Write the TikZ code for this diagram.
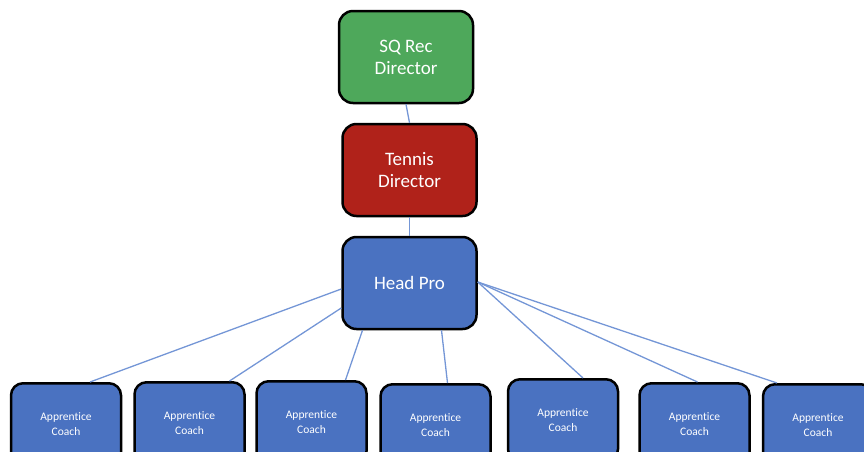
\documentclass[tikz,border=0pt]{standalone}
\usepackage{fontspec}
\setmainfont{Carlito}[Ligatures=NoCommon]
\definecolor{recGreen}{HTML}{4EA85B}
\definecolor{tennisRed}{HTML}{B0221A}
\definecolor{proBlue}{HTML}{4A72C1}
\definecolor{linkBlue}{HTML}{7496D6}
\tikzset{
    roleBox/.style={draw=black, line width=2.5pt, rounded corners=14pt,
        text=white, align=center, minimum width=134pt, minimum height=92pt,
        font=\fontsize{19}{22}\selectfont},
    coachBox/.style={roleBox, fill=proBlue, minimum width=110pt, minimum height=82pt,
        rounded corners=12pt, font=\fontsize{11.5}{14.5}\selectfont},
    link/.style={draw=linkBlue, line width=1.3pt}
}

\begin{document}
\begin{tikzpicture}[x=1pt, y=-1pt]
    \useasboundingbox (0,0) rectangle (864,451);
    \clip (0,0) rectangle (864,451);

    \node[roleBox, fill=recGreen] (rec) at (406,57) {SQ Rec\\Director};
    \node[roleBox, fill=tennisRed] (tennis) at (409.5,170) {Tennis\\Director};
    \node[roleBox, fill=proBlue] (head) at (409.5,283) {Head Pro};

    \node[coachBox, anchor=north] (c1) at (66,382) {Apprentice\\Coach};
    \node[coachBox, anchor=north] (c2) at (189.5,381) {Apprentice\\Coach};
    \node[coachBox, anchor=north] (c3) at (311.5,380) {Apprentice\\Coach};
    \node[coachBox, anchor=north] (c4) at (435.5,383) {Apprentice\\Coach};
    \node[coachBox, anchor=north] (c5) at (563,378) {Apprentice\\Coach};
    \node[coachBox, anchor=north] (c6) at (694.5,382) {Apprentice\\Coach};
    \node[coachBox, anchor=north] (c7) at (818,383) {Apprentice\\Coach};

    % chain of directors
    \draw[link] (rec.south) -- (tennis.north);
    \draw[link] (tennis.south) -- (head.north);

    % head pro to coaches
    \draw[link] ([yshift=-6pt]head.west) -- ([xshift=24pt]c1.north);
    \draw[link] ([yshift=-25pt]head.west) -- ([xshift=40pt]c2.north);
    \draw[link] ([xshift=-47pt]head.south) -- ([xshift=34pt]c3.north);
    \draw[link] ([xshift=32pt]head.south) -- ([xshift=12pt]c4.north);
    \draw[link] ([yshift=1pt]head.east) -- ([xshift=20pt]c5.north);
    \draw[link] ([yshift=1pt]head.east) -- ([xshift=3pt]c6.north);
    \draw[link] ([yshift=1pt]head.east) -- ([xshift=-41pt]c7.north);
\end{tikzpicture}
\end{document}
